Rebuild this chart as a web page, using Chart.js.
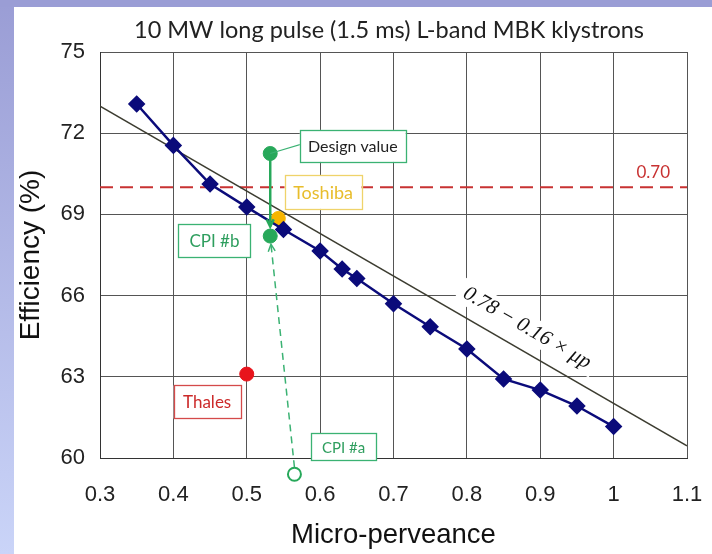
<!DOCTYPE html>
<html>
<head>
<meta charset="utf-8">
<script src="https://cdn.jsdelivr.net/npm/chart.js@4/dist/chart.umd.min.js"></script>
<style>
  html, body { margin: 0; padding: 0; background: #fff; }
  #wrap { width: 712px; height: 554px; }
</style>
</head>
<body>
<div id="wrap"><canvas id="c" width="712" height="554"></canvas></div>
<script>
// ---- data ----
const titleText = "10 MW long pulse (1.5 ms) L-band MBK klystrons";
const microPerveance = [0.35, 0.40, 0.45, 0.50, 0.55, 0.60, 0.63, 0.65, 0.70, 0.75, 0.80, 0.85, 0.90, 0.95, 1.00];
const efficiency     = [73.08, 71.55, 70.12, 69.27, 68.44, 67.65, 66.98, 66.63, 65.70, 64.85, 64.03, 62.92, 62.51, 61.92, 61.16];
const fitX = [0.3, 1.1];
const fitY = [73.0, 60.45];
const limitX = [0.3, 1.1];
const limitY = [70, 70];
const designPoint = [0.532, 71.25];
const cpiBPoint   = [0.532, 68.2];
const toshibaPoint = [0.543, 68.85];
const thalesPoint  = [0.500, 63.1];
const cpiAPoint    = [0.565, 59.4];
const xTicks = [0.3, 0.4, 0.5, 0.6, 0.7, 0.8, 0.9, 1.0, 1.1];
const yTicks = [60, 63, 66, 69, 72, 75];

const toXY = (xs, ys) => xs.map((x, i) => ({ x: x, y: ys[i] }));
const pt = (p) => [{ x: p[0], y: p[1] }];

const GREEN = '#27a85a';
const GREEN_L = '#3bb273';

const annot = {
  id: 'annot',
  beforeDraw(chart) {
    const ctx = chart.ctx;
    ctx.save();
    ctx.fillStyle = '#ffffff';
    ctx.fillRect(0, 0, chart.width, chart.height);
    const g = ctx.createLinearGradient(0, 0, 0, chart.height);
    g.addColorStop(0, '#9a9dd5');
    g.addColorStop(1, '#cad4f8');
    ctx.fillStyle = g;
    ctx.fillRect(0, 0, 14, chart.height);
    ctx.fillStyle = '#9a9dd5';
    ctx.fillRect(0, 0, chart.width, 7);
    // title
    ctx.fillStyle = '#222';
    ctx.font = '23.5px Lato, "Open Sans", sans-serif';
    ctx.textAlign = 'center';
    ctx.textBaseline = 'middle';
    ctx.fillText(titleText, 389, 30);
    ctx.restore();
  },
  afterDatasetsDraw(chart) {
    const ctx = chart.ctx;
    const X = (v) => chart.scales.x.getPixelForValue(v);
    const Y = (v) => chart.scales.y.getPixelForValue(v);

    function arrow(x1, y1, x2, y2, color, width, dash) {
      ctx.save();
      ctx.strokeStyle = color;
      ctx.lineWidth = width;
      ctx.setLineDash(dash || []);
      ctx.beginPath(); ctx.moveTo(x1, y1); ctx.lineTo(x2, y2); ctx.stroke();
      ctx.setLineDash([]);
      const a = Math.atan2(y2 - y1, x2 - x1);
      const L = 8, s = 0.45;
      ctx.beginPath();
      ctx.moveTo(x2 - L * Math.cos(a - s), y2 - L * Math.sin(a - s));
      ctx.lineTo(x2, y2);
      ctx.lineTo(x2 - L * Math.cos(a + s), y2 - L * Math.sin(a + s));
      ctx.stroke();
      ctx.restore();
    }
    function box(cx, cy, w, h, text, border, color, size) {
      ctx.save();
      ctx.fillStyle = '#fff';
      ctx.fillRect(cx - w / 2, cy - h / 2, w, h);
      ctx.strokeStyle = border;
      ctx.lineWidth = 1.3;
      ctx.strokeRect(Math.round(cx - w / 2) + 0.5, Math.round(cy - h / 2) + 0.5, w, h);
      ctx.fillStyle = color;
      ctx.font = size + 'px Lato, "Open Sans", sans-serif';
      ctx.textAlign = 'center';
      ctx.textBaseline = 'middle';
      ctx.fillText(text, cx, cy + 1);
      ctx.restore();
    }

    // solid arrow design -> CPI #b
    arrow(X(designPoint[0]), Y(designPoint[1]), X(designPoint[0]), Y(68.55), GREEN, 2.5);
    // dashed arrow CPI #a -> CPI #b
    arrow(X(cpiAPoint[0]), Y(cpiAPoint[1]) - 7, X(0.533), Y(67.9), GREEN_L, 1.5, [7, 5]);

    // open circle CPI #a (sits below the x axis, outside the plot area)
    ctx.save();
    ctx.beginPath();
    ctx.arc(X(cpiAPoint[0]), Y(cpiAPoint[1]), 6.5, 0, Math.PI * 2);
    ctx.fillStyle = '#fff';
    ctx.fill();
    ctx.strokeStyle = GREEN;
    ctx.lineWidth = 2;
    ctx.stroke();
    ctx.restore();

    // connector design point -> box
    ctx.save();
    ctx.strokeStyle = GREEN_L; ctx.lineWidth = 1.3;
    ctx.beginPath();
    ctx.moveTo(X(designPoint[0]), Y(designPoint[1]));
    ctx.lineTo(X(0.594), Y(71.75));
    ctx.stroke();
    ctx.restore();

    box(X(0.6445), Y(71.53), 106, 32, 'Design value', GREEN_L, '#222', 16);
    box(X(0.604), Y(69.83), 77, 34, 'Toshiba', '#efd36a', '#e8bd2c', 18);
    box(X(0.456), Y(68.02), 72, 33, 'CPI #b', GREEN_L, '#2e9e5e', 17);
    box(X(0.446), Y(62.07), 67, 33, 'Thales', '#d44a4a', '#cc2a2a', 17);
    box(X(0.632), Y(60.41), 65, 27, 'CPI #a', GREEN_L, '#2e9e5e', 15);

    // 0.70 label
    ctx.save();
    ctx.fillStyle = '#c83232';
    ctx.font = '17px Lato, "Open Sans", sans-serif';
    ctx.textAlign = 'center';
    ctx.textBaseline = 'middle';
    ctx.fillText('0.70', X(1.054), Y(70.53));
    ctx.restore();

    // formula along the fit line
    ctx.save();
    const ang = Math.atan2(Y(fitY[1]) - Y(fitY[0]), X(fitX[1]) - X(fitX[0]));
    ctx.translate(X(0.882), Y(64.8));
    ctx.rotate(ang);
    ctx.font = 'italic 21px "Liberation Serif", "DejaVu Serif", serif';
    const txt = '0.78 \u2212 0.16 \u00d7 \u03bcp';
    const tw = ctx.measureText(txt).width;
    ctx.fillStyle = '#fff';
    ctx.fillRect(-tw / 2 - 6, -13, tw + 12, 25);
    ctx.fillStyle = '#111';
    ctx.textAlign = 'center';
    ctx.textBaseline = 'middle';
    ctx.fillText(txt, 0, 0);
    ctx.restore();
  }
};

const tickFont = { family: '"Liberation Sans Narrow", "Liberation Sans", Arial, sans-serif', size: 22 };

new Chart(document.getElementById('c'), {
  type: 'scatter',
  data: {
    datasets: [
      { data: toXY(limitX, limitY), showLine: true, borderColor: '#c83232', borderWidth: 2, borderDash: [13, 7], pointRadius: 0, order: 5 },
      { data: toXY(fitX, fitY), showLine: true, borderColor: '#3c3c30', borderWidth: 1.5, pointRadius: 0, order: 4 },
      { data: pt(toshibaPoint), backgroundColor: '#f7b500', borderColor: '#f7b500', pointRadius: 7, order: 3 },
      { data: toXY(microPerveance, efficiency), showLine: true, borderColor: '#0b0b7a', borderWidth: 2.5,
        backgroundColor: '#0b0b7a', pointStyle: 'rectRot', pointRadius: 7, order: 2 },
      { data: pt(designPoint), backgroundColor: GREEN, borderColor: GREEN, pointRadius: 7, order: 1 },
      { data: pt(cpiBPoint), backgroundColor: GREEN, borderColor: GREEN, pointRadius: 7, order: 1 },
      { data: pt(thalesPoint), backgroundColor: '#e8141c', borderColor: '#e8141c', pointRadius: 7, order: 1 }
    ]
  },
  options: {
    responsive: false,
    animation: false,
    devicePixelRatio: 1,
    layout: { padding: { left: 14, top: 52, right: 25, bottom: 0 } },
    plugins: {
      legend: { display: false },
      tooltip: { enabled: false },
      title: { display: false }
    },
    scales: {
      x: {
        type: 'linear', min: 0.3, max: 1.1,
        afterBuildTicks: (s) => { s.ticks = xTicks.map(v => ({ value: v })); },
        afterFit: (s) => { s.height = 96; },
        ticks: { font: tickFont, color: '#222', padding: 3, callback: (v) => String(Number(v.toFixed(1))) },
        grid: { color: '#555', lineWidth: 1, drawTicks: true, tickLength: 21, tickColor: 'rgba(0,0,0,0)' },
        border: { color: '#333', width: 1 },
        title: { display: true, text: 'Micro-perveance', color: '#111',
          font: { family: '"Liberation Sans Narrow", "Liberation Sans", Arial, sans-serif', size: 27.5 },
          padding: { top: 0, bottom: 2 } }
      },
      y: {
        type: 'linear', min: 60, max: 75,
        afterBuildTicks: (s) => { s.ticks = yTicks.map(v => ({ value: v })); },
        afterFit: (s) => { s.width = 86; },
        ticks: { font: tickFont, color: '#222', padding: 15 },
        grid: { color: '#555', lineWidth: 1, drawTicks: false },
        border: { color: '#333', width: 1 },
        title: { display: true, text: 'Efficiency (%)', color: '#111',
          font: { family: '"Liberation Sans", Arial, sans-serif', size: 28 },
          padding: { top: 0, bottom: 0 } }
      }
    }
  },
  plugins: [annot]
});
</script>
</body>
</html>
